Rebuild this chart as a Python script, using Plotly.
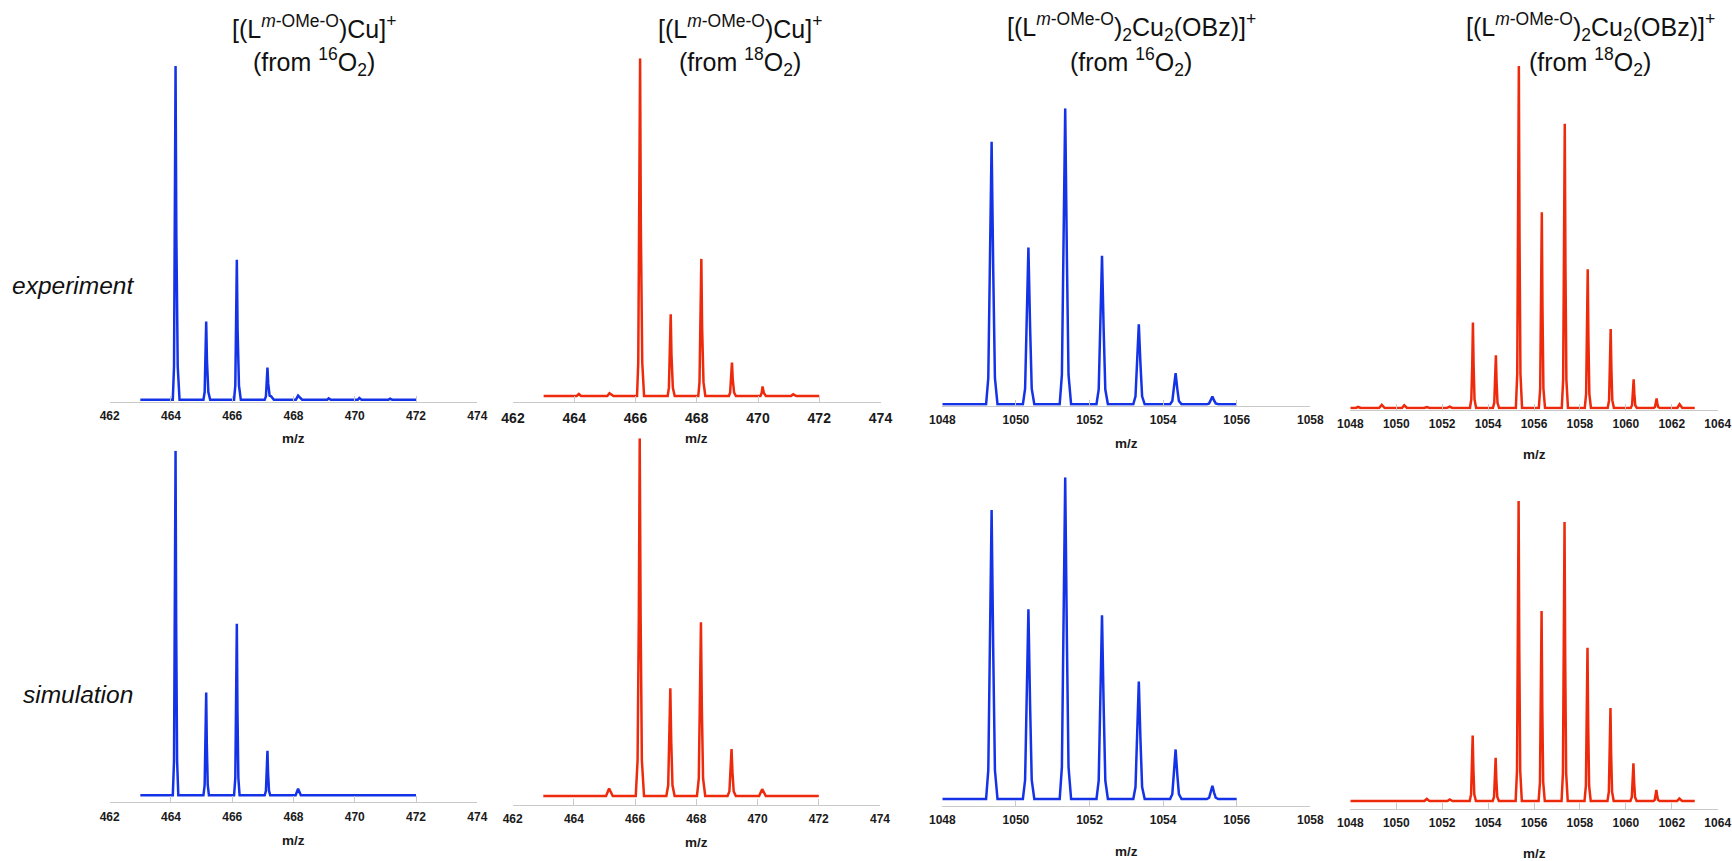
import plotly.graph_objects as go

# m/z and relative intensity, one peak per row
mz_exp16_low = [463,
                464.06, 464.10, 464.13, 464.15, 464.175, 464.22, 464.28,
                465.06, 465.10, 465.13, 465.15, 465.175, 465.22, 465.28,
                466.06, 466.10, 466.13, 466.15, 466.175, 466.22, 466.28,
                467.06, 467.10, 467.13, 467.15, 467.175, 467.22, 467.27, 467.36,
                468.08, 468.15, 468.28, 469.1, 469.15, 469.22, 470.1, 470.15, 470.22, 471.1, 471.15, 471.22,
                472]
int_exp16_low = [0,
                 0, 10, 50, 100, 50, 10, 0,
                 0, 2.3, 11.7, 23.4, 11.7, 2.3, 0,
                 0, 4.2, 21, 41.9, 21, 4.2, 0,
                 0, 1, 4.8, 9.6, 4.8, 1.2, 1, 0,
                 0, 1.2, 0, 0, 0.4, 0, 0, 0.5, 0, 0, 0.3, 0,
                 0]

mz_exp18_low = [463,
                464.08, 464.15, 464.22, 465.08, 465.15, 465.28,
                466.05, 466.09, 466.125, 466.15, 466.175, 466.22, 466.28,
                467.05, 467.09, 467.125, 467.15, 467.175, 467.22, 467.28,
                468.05, 468.09, 468.125, 468.15, 468.175, 468.22, 468.28,
                469.05, 469.09, 469.125, 469.15, 469.175, 469.22, 469.28,
                470.08, 470.12, 470.15, 470.19, 470.26,
                471.08, 471.15, 471.25,
                472]
int_exp18_low = [0,
                 0, 0.6, 0, 0, 0.8, 0,
                 0, 10, 50, 100, 50, 10, 0,
                 0, 2.4, 12.1, 24.2, 12.1, 2.4, 0,
                 0, 4.1, 20.3, 40.6, 20.3, 4.1, 0,
                 0, 1, 5, 9.9, 5, 1, 0,
                 0, 0.9, 2.8, 0.9, 0,
                 0, 0.5, 0,
                 0]

mz_exp16_high = [1048,
                 1049.19, 1049.25, 1049.295, 1049.34, 1049.385, 1049.43, 1049.50,
                 1050.19, 1050.25, 1050.295, 1050.34, 1050.385, 1050.43, 1050.50,
                 1051.19, 1051.25, 1051.295, 1051.34, 1051.385, 1051.43, 1051.50,
                 1052.19, 1052.25, 1052.295, 1052.34, 1052.385, 1052.43, 1052.50,
                 1053.19, 1053.25, 1053.295, 1053.34, 1053.385, 1053.43, 1053.50,
                 1054.19, 1054.25, 1054.295, 1054.34, 1054.385, 1054.43, 1054.50,
                 1055.19, 1055.25, 1055.295, 1055.34, 1055.385, 1055.43, 1055.50,
                 1056]
int_exp16_high = [0,
                  0, 8.9, 44.4, 88.7, 44.4, 8.9, 0,
                  0, 5.3, 26.5, 53, 26.5, 5.3, 0,
                  0, 10, 50, 100, 50, 10, 0,
                  0, 5, 25.1, 50.2, 25.1, 5, 0,
                  0, 2.7, 13.5, 27, 13.5, 2.7, 0,
                  0, 1.1, 5.3, 10.5, 5.3, 1.1, 0,
                  0, 0.3, 1.3, 2.6, 1.3, 0.3, 0,
                  0]

mz_exp18_high = [1048,
                 1048.24, 1048.34, 1048.46, 1049.25, 1049.37, 1049.5, 1050.25, 1050.35, 1050.47,
                 1051.22, 1051.33, 1051.45, 1052.2, 1052.32, 1052.45,
                 1053.21, 1053.27, 1053.31, 1053.34, 1053.37, 1053.41, 1053.48,
                 1054.21, 1054.27, 1054.31, 1054.34, 1054.37, 1054.41, 1054.48,
                 1055.21, 1055.27, 1055.31, 1055.34, 1055.37, 1055.41, 1055.48,
                 1056.21, 1056.27, 1056.31, 1056.34, 1056.37, 1056.41, 1056.48,
                 1057.21, 1057.27, 1057.31, 1057.34, 1057.37, 1057.41, 1057.48,
                 1058.21, 1058.27, 1058.31, 1058.34, 1058.37, 1058.41, 1058.48,
                 1059.21, 1059.27, 1059.31, 1059.34, 1059.37, 1059.41, 1059.48,
                 1060.21, 1060.27, 1060.31, 1060.34, 1060.37, 1060.41, 1060.48,
                 1061.21, 1061.27, 1061.31, 1061.34, 1061.37, 1061.41, 1061.48,
                 1062.24, 1062.34, 1062.46,
                 1063]
int_exp18_high = [0,
                  0, 0.3, 0, 0, 0.9, 0, 0, 0.8, 0,
                  0, 0.3, 0, 0, 0.4, 0,
                  0, 2.5, 12.5, 25, 12.5, 2.5, 0,
                  0, 1.5, 7.7, 15.4, 7.7, 1.5, 0,
                  0, 10, 50, 100, 50, 10, 0,
                  0, 5.7, 28.6, 57.2, 28.6, 5.7, 0,
                  0, 8.3, 41.6, 83.1, 41.6, 8.3, 0,
                  0, 4.1, 20.3, 40.6, 20.3, 4.1, 0,
                  0, 2.3, 11.6, 23.1, 11.6, 2.3, 0,
                  0, 0.8, 4.2, 8.4, 4.2, 0.8, 0,
                  0, 0.3, 1.4, 2.8, 1.4, 0.3, 0,
                  0, 1.1, 0,
                  0]

mz_sim16_low = [463,
                464.06, 464.10, 464.13, 464.15, 464.17, 464.20, 464.24,
                465.06, 465.10, 465.13, 465.15, 465.17, 465.20, 465.24,
                466.06, 466.10, 466.13, 466.15, 466.17, 466.20, 466.24,
                467.06, 467.10, 467.13, 467.15, 467.17, 467.20, 467.24,
                468.07, 468.15, 468.24,
                472]
int_sim16_low = [0,
                 0, 10, 50, 100, 50, 10, 0,
                 0, 3, 14.9, 29.8, 14.9, 3, 0,
                 0, 5, 24.9, 49.8, 24.9, 5, 0,
                 0, 1.3, 6.5, 12.9, 6.5, 1.3, 0,
                 0, 1.9, 0,
                 0]

mz_sim18_low = [463,
                465.05, 465.15, 465.27,
                466.02, 466.08, 466.12, 466.15, 466.18, 466.22, 466.29,
                467.02, 467.08, 467.12, 467.15, 467.18, 467.22, 467.29,
                468.02, 468.08, 468.12, 468.15, 468.18, 468.22, 468.29,
                469.02, 469.08, 469.12, 469.15, 469.18, 469.22, 469.29,
                470.05, 470.15, 470.27,
                472]
int_sim18_low = [0,
                 0, 2.1, 0,
                 0, 10, 50, 100, 50, 10, 0,
                 0, 3, 15.1, 30.1, 15.1, 3, 0,
                 0, 4.9, 24.3, 48.6, 24.3, 4.9, 0,
                 0, 1.3, 6.6, 13.1, 6.6, 1.3, 0,
                 0, 1.9, 0,
                 0]

mz_sim16_high = [1048,
                 1049.19, 1049.25, 1049.295, 1049.34, 1049.385, 1049.43, 1049.50,
                 1050.19, 1050.25, 1050.295, 1050.34, 1050.385, 1050.43, 1050.50,
                 1051.19, 1051.25, 1051.295, 1051.34, 1051.385, 1051.43, 1051.50,
                 1052.19, 1052.25, 1052.295, 1052.34, 1052.385, 1052.43, 1052.50,
                 1053.19, 1053.25, 1053.295, 1053.34, 1053.385, 1053.43, 1053.50,
                 1054.19, 1054.25, 1054.295, 1054.34, 1054.385, 1054.43, 1054.50,
                 1055.19, 1055.25, 1055.295, 1055.34, 1055.385, 1055.43, 1055.50,
                 1056]
int_sim16_high = [0,
                  0, 9, 44.9, 89.8, 44.9, 9, 0,
                  0, 5.9, 29.5, 59, 29.5, 5.9, 0,
                  0, 10, 50, 100, 50, 10, 0,
                  0, 5.7, 28.6, 57.1, 28.6, 5.7, 0,
                  0, 3.7, 18.3, 36.5, 18.3, 3.7, 0,
                  0, 1.5, 7.7, 15.4, 7.7, 1.5, 0,
                  0, 0.4, 2, 4.1, 2, 0.4, 0,
                  0]

mz_sim18_high = [1048,
                 1051.23, 1051.33, 1051.45, 1052.23, 1052.33, 1052.45,
                 1053.20, 1053.26, 1053.30, 1053.33, 1053.36, 1053.40, 1053.47,
                 1054.20, 1054.26, 1054.30, 1054.33, 1054.36, 1054.40, 1054.47,
                 1055.20, 1055.26, 1055.30, 1055.33, 1055.36, 1055.40, 1055.47,
                 1056.20, 1056.26, 1056.30, 1056.33, 1056.36, 1056.40, 1056.47,
                 1057.20, 1057.26, 1057.30, 1057.33, 1057.36, 1057.40, 1057.47,
                 1058.20, 1058.26, 1058.30, 1058.33, 1058.36, 1058.40, 1058.47,
                 1059.20, 1059.26, 1059.30, 1059.33, 1059.36, 1059.40, 1059.47,
                 1060.20, 1060.26, 1060.30, 1060.33, 1060.36, 1060.40, 1060.47,
                 1061.20, 1061.26, 1061.30, 1061.33, 1061.36, 1061.40, 1061.47,
                 1062.23, 1062.33, 1062.45,
                 1063]
int_sim18_high = [0,
                  0, 0.7, 0, 0, 0.5, 0,
                  0, 2.2, 10.9, 21.8, 10.9, 2.2, 0,
                  0, 1.4, 7.2, 14.4, 7.2, 1.4, 0,
                  0, 10, 50, 100, 50, 10, 0,
                  0, 6.3, 31.7, 63.3, 31.7, 6.3, 0,
                  0, 9.3, 46.5, 93, 46.5, 9.3, 0,
                  0, 5.1, 25.6, 51.1, 25.6, 5.1, 0,
                  0, 3.1, 15.5, 31, 15.5, 3.1, 0,
                  0, 1.3, 6.3, 12.6, 6.3, 1.3, 0,
                  0, 0.4, 1.9, 3.7, 1.9, 0.4, 0,
                  0, 0.8, 0,
                  0]

title_top = ["[(L<sup><i>m</i>-OMe-O</sup>)Cu]<sup>+</sup>", "[(L<sup><i>m</i>-OMe-O</sup>)Cu]<sup>+</sup>",
             "[(L<sup><i>m</i>-OMe-O</sup>)<sub>2</sub>Cu<sub>2</sub>(OBz)]<sup>+</sup>",
             "[(L<sup><i>m</i>-OMe-O</sup>)<sub>2</sub>Cu<sub>2</sub>(OBz)]<sup>+</sup>"]
title_bottom = ["(from <sup>16</sup>O<sub>2</sub>)", "(from <sup>18</sup>O<sub>2</sub>)",
                "(from <sup>16</sup>O<sub>2</sub>)", "(from <sup>18</sup>O<sub>2</sub>)"]
row_labels = ["experiment", "simulation"]

W = 1732
H = 861
BLUE = "#1433e6"
RED = "#ee2a0c"
GREY = "#c9c9c9"
FONT = "Liberation Sans"

# pixel geometry of each panel: left, right, axis y, baseline y, tallest peak y, tick size, m/z label y
panels = [
    (mz_exp16_low, int_exp16_low, BLUE, 462, 474, 109.7, 477.3, 402, 399.7, 66, 12, 438),
    (mz_exp18_low, int_exp18_low, RED, 462, 474, 513, 880.5, 402, 396, 58.3, 14, 438),
    (mz_exp16_high, int_exp16_high, BLUE, 1048, 1058, 942.3, 1310.3, 405.7, 404.3, 108.3, 12, 443),
    (mz_exp18_high, int_exp18_high, RED, 1048, 1064, 1350.3, 1717.7, 409.5, 408, 66, 12, 454),
    (mz_sim16_low, int_sim16_low, BLUE, 462, 474, 109.7, 477.3, 802.3, 795.3, 450.7, 12, 840),
    (mz_sim18_low, int_sim18_low, RED, 462, 474, 512.7, 880, 805, 796, 438.3, 12, 842),
    (mz_sim16_high, int_sim16_high, BLUE, 1048, 1058, 942.3, 1310.3, 806, 799, 477.3, 12, 851),
    (mz_sim18_high, int_sim18_high, RED, 1048, 1064, 1350.3, 1717.7, 809, 801, 501, 12, 853),
]

fig = go.Figure()
layout = {}
notes = []
for i, (mz, inten, color, lo, hi, left, right, axis_y, base_y, top_y, tick_size, label_y) in enumerate(panels):
    n = i + 1
    fig.add_trace(go.Scatter(x=mz, y=inten, mode="lines", line=dict(color=color, width=2.5),
                             xaxis="x%d" % n, yaxis="y%d" % n, cliponaxis=False, showlegend=False))
    layout["xaxis%d" % n] = dict(
        domain=[left / W, right / W], range=[lo, hi], anchor="y%d" % n, tick0=lo, dtick=2,
        showgrid=False, zeroline=False, showline=True, linecolor=GREY, linewidth=1,
        ticks="inside", ticklen=6, tickwidth=1, tickcolor=GREY, ticklabelstandoff=3,
        tickfont=dict(family=FONT, size=tick_size, color="#1a1a1a", weight=700),
        automargin=False,
    )
    layout["yaxis%d" % n] = dict(
        domain=[1 - axis_y / H, 1 - top_y / H],
        range=[-(axis_y - base_y) / (base_y - top_y) * 100, 100],
        anchor="x%d" % n, visible=False,
    )
    # m/z sits at a different height under every panel, so it is placed by hand
    notes.append(dict(x=(left + right) / 2 / W, y=1 - label_y / H, text="<b>m/z</b>", xref="paper", yref="paper",
                      showarrow=False, xanchor="center", yanchor="middle",
                      font=dict(family=FONT, size=13.5, color="#1a1a1a")))

for cx, line1, line2 in zip([314, 740, 1131, 1590], title_top, title_bottom):
    for y_px, text in [(27, line1), (62, line2)]:
        notes.append(dict(x=cx / W, y=1 - y_px / H, text=text, xref="paper", yref="paper", showarrow=False,
                          xanchor="center", yanchor="middle", font=dict(family=FONT, size=25, color="#111111")))

for cx, y_px, text in zip([73, 77.5], [286, 694], row_labels):
    notes.append(dict(x=cx / W, y=1 - y_px / H, text="<i>%s</i>" % text, xref="paper", yref="paper", showarrow=False,
                      xanchor="center", yanchor="middle", font=dict(family=FONT, size=24.5, color="#111111")))

fig.update_layout(width=W, height=H, margin=dict(l=0, r=0, t=0, b=0), paper_bgcolor="white",
                  plot_bgcolor="white", annotations=notes, **layout)
fig.write_html("out.html", config={"displayModeBar": False},
               post_script="document.body.style.margin='0';document.body.style.overflow='hidden';")
